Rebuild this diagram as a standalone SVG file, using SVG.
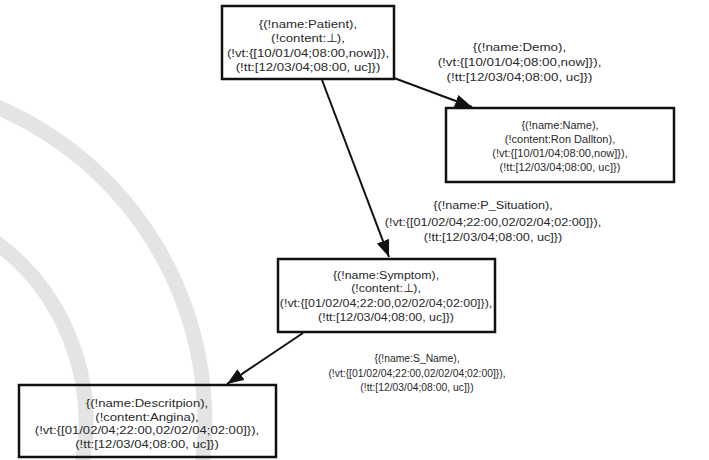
<svg xmlns="http://www.w3.org/2000/svg" width="709" height="460" viewBox="0 0 709 460">
<style>
.bg{fill:#fff}
.arc{fill:none;stroke:#e4e4e4;stroke-width:15}
.box{fill:none;stroke:#111;stroke-width:2.5}
.t{font-family:"Liberation Sans",Arial,sans-serif;fill:#2a2a2a;text-anchor:middle;font-size:11.5px}
.edge{stroke:#111;stroke-width:2;fill:none;marker-end:url(#ah)}
</style>
<defs>
<marker id="ah" markerUnits="userSpaceOnUse" markerWidth="18" markerHeight="14" refX="17" refY="6.5" orient="auto">
<path d="M0,0 L17,6.5 L0,13 z" fill="#111"/>
</marker>
</defs>
<rect class="bg" width="709" height="460"/>
<g id="watermark">
<path class="arc" d="M -10,104 A 343 343 0 0 1 201.6,470"/>
<path class="arc" d="M -10,238 A 224 224 0 0 1 80.8,470"/>
</g>
<g id="connectors">
<line class="edge" x1="394" y1="78" x2="472" y2="107"/>
<line class="edge" x1="322" y1="80" x2="389" y2="257"/>
<line class="edge" x1="303" y1="333" x2="227" y2="384"/>
</g>
<g id="patient">
<rect class="box" x="222" y="6" width="172" height="73"/>
<g transform="translate(308,0) scale(1.15,1)">
<text class="t"><tspan x="0" y="28">{(!name:Patient),</tspan><tspan x="0" y="42.5">(!content:⊥),</tspan><tspan x="0" y="57">(!vt:{[10/01/04;08:00,now]}),</tspan><tspan x="0" y="71.5">(!tt:[12/03/04;08:00, uc]})</tspan></text>
</g>
</g>
<g id="demo-label">
<g transform="translate(519.5,0) scale(1.16,1)">
<text class="t"><tspan x="0" y="51">{(!name:Demo),</tspan><tspan x="0" y="66">(!vt:{[10/01/04;08:00,now]}),</tspan><tspan x="0" y="81">(!tt:[12/03/04;08:00, uc]})</tspan></text>
</g>
</g>
<g id="name">
<rect class="box" x="446" y="108" width="228" height="74"/>
<g transform="translate(560,0) scale(0.96,1)">
<text class="t"><tspan x="0" y="129">{(!name:Name),</tspan><tspan x="0" y="143.5">(!content:Ron Dallton),</tspan><tspan x="0" y="157.5">(!vt:{[10/01/04;08:00,now]}),</tspan><tspan x="0" y="171.5">(!tt:[12/03/04;08:00, uc]})</tspan></text>
</g>
</g>
<g id="psituation-label">
<g transform="translate(493,0) scale(1.1,1)">
<text class="t"><tspan x="0" y="209">{(!name:P_Situation),</tspan><tspan x="0" y="226">(!vt:{[01/02/04;22:00,02/02/04;02:00]}),</tspan><tspan x="0" y="241">(!tt:[12/03/04;08:00, uc]})</tspan></text>
</g>
</g>
<g id="symptom">
<rect class="box" x="278" y="259" width="217" height="73"/>
<g transform="translate(386,0) scale(1.08,1)">
<text class="t"><tspan x="0" y="279">{(!name:Symptom),</tspan><tspan x="0" y="292.5">(!content:⊥),</tspan><tspan x="0" y="307">(!vt:{[01/02/04;22:00,02/02/04;02:00]}),</tspan><tspan x="0" y="321">(!tt:[12/03/04;08:00, uc]})</tspan></text>
</g>
</g>
<g id="sname-label">
<g transform="translate(417,0) scale(0.9,1)">
<text class="t"><tspan x="0" y="362">{(!name:S_Name),</tspan><tspan x="0" y="377">(!vt:{[01/02/04;22:00,02/02/04;02:00]}),</tspan><tspan x="0" y="391">(!tt:[12/03/04;08:00, uc]})</tspan></text>
</g>
</g>
<g id="description">
<rect class="box" x="19" y="385" width="257" height="72"/>
<g transform="translate(147,0) scale(1.14,1)">
<text class="t"><tspan x="0" y="407">{(!name:Descritpion),</tspan><tspan x="0" y="421">(!content:Angina),</tspan><tspan x="0" y="434.5">(!vt:{[01/02/04;22:00,02/02/04;02:00]}),</tspan><tspan x="0" y="448">(!tt:[12/03/04;08:00, uc]})</tspan></text>
</g>
</g>
</svg>
